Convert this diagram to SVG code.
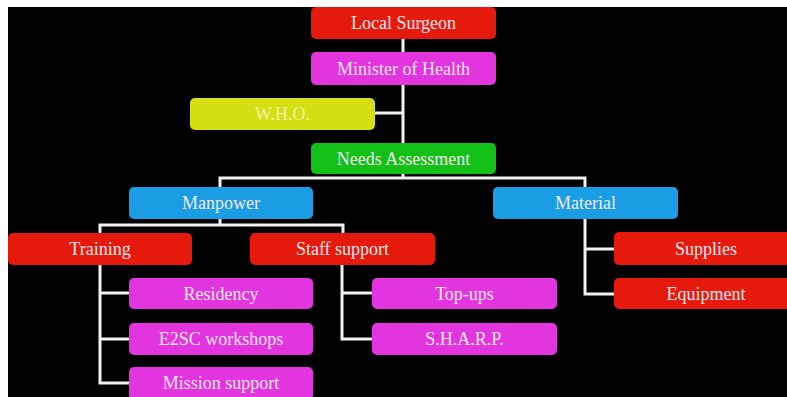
<svg xmlns="http://www.w3.org/2000/svg" width="787" height="397" viewBox="0 0 787 397">
<style>
.box{stroke:none}
.red{fill:#e5190c}
.mag{fill:#e234df}
.yel{fill:#d6df12}
.grn{fill:#12c018}
.blu{fill:#1a9de3}
text{font-family:"Liberation Serif","DejaVu Serif",serif;font-size:18px;fill:#f6e8ec;text-anchor:middle;dominant-baseline:central}
.who{fill:#eef2a8}
.ln{stroke:#f2f2f2;stroke-width:3;fill:none}
</style>
<rect x="0" y="0" width="787" height="397" fill="#ffffff"/>
<rect x="8" y="7" width="779" height="390" fill="#000000"/>
<g id="connectors">
<path class="ln" d="M403,39 V178"/>
<path class="ln" d="M375,113 H403"/>
<path class="ln" d="M220,187 V178 H585 V187"/>
<path class="ln" d="M220,219 V225"/>
<path class="ln" d="M100,233 V225 H343 V233"/>
<path class="ln" d="M100,265 V383 H129"/>
<path class="ln" d="M100,293 H129"/>
<path class="ln" d="M100,339 H129"/>
<path class="ln" d="M342,265 V339 H372"/>
<path class="ln" d="M342,293 H372"/>
<path class="ln" d="M585,219 V294 H614"/>
<path class="ln" d="M585,249 H614"/>
</g>
<g id="local-surgeon"><rect class="box red" x="311" y="7" width="185" height="32" rx="5"/><text x="403.5" y="23">Local Surgeon</text></g>
<g id="minister"><rect class="box mag" x="311" y="52" width="185" height="33" rx="5"/><text x="403.5" y="68.5">Minister of Health</text></g>
<g id="who"><rect class="box yel" x="190" y="98" width="185" height="32" rx="5"/><text class="who" x="282.5" y="114">W.H.O.</text></g>
<g id="needs"><rect class="box grn" x="311" y="143" width="185" height="31" rx="5"/><text x="403.5" y="158.5">Needs Assessment</text></g>
<g id="manpower"><rect class="box blu" x="129" y="187" width="184" height="32" rx="5"/><text x="221" y="203">Manpower</text></g>
<g id="material"><rect class="box blu" x="493" y="187" width="185" height="32" rx="5"/><text x="585.5" y="203">Material</text></g>
<g id="training"><rect class="box red" x="8" y="233" width="184" height="32" rx="5"/><text x="100" y="249">Training</text></g>
<g id="staff-support"><rect class="box red" x="250" y="233" width="185" height="32" rx="5"/><text x="342.5" y="249">Staff support</text></g>
<g id="supplies"><rect class="box red" x="614" y="232" width="184" height="33" rx="5"/><text x="706" y="248.5">Supplies</text></g>
<g id="equipment"><rect class="box red" x="614" y="278" width="184" height="31" rx="5"/><text x="706" y="293.5">Equipment</text></g>
<g id="residency"><rect class="box mag" x="129" y="278" width="184" height="31" rx="5"/><text x="221" y="293.5">Residency</text></g>
<g id="e2sc"><rect class="box mag" x="129" y="323" width="184" height="32" rx="5"/><text x="221" y="339">E2SC workshops</text></g>
<g id="mission"><rect class="box mag" x="129" y="367" width="184" height="33" rx="5"/><text x="221" y="383">Mission support</text></g>
<g id="top-ups"><rect class="box mag" x="372" y="278" width="185" height="31" rx="5"/><text x="464.5" y="293.5">Top-ups</text></g>
<g id="sharp"><rect class="box mag" x="372" y="323" width="185" height="32" rx="5"/><text x="464.5" y="339">S.H.A.R.P.</text></g>
</svg>
